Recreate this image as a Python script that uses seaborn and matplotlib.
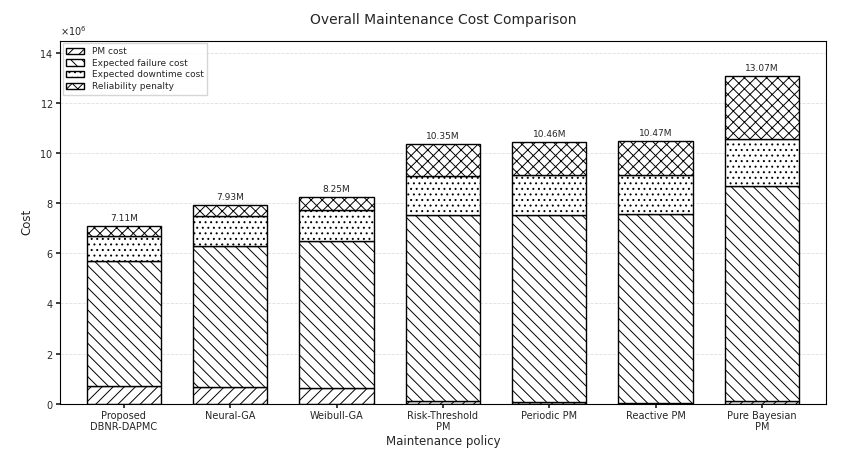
import matplotlib
matplotlib.use("Agg")
import matplotlib.pyplot as plt
import matplotlib.ticker as mticker
import seaborn as sns
import numpy as np

policies = ["Proposed\nDBNR-DAPMC", "Neural-GA", "Weibull-GA", "Risk-Threshold\nPM", "Periodic PM", "Reactive PM", "Pure Bayesian\nPM"]
pm_cost = [0.72, 0.68, 0.62, 0.10, 0.08, 0.02, 0.10]
failure_cost = [4.98, 5.62, 5.88, 7.45, 7.47, 7.55, 8.60]
downtime_cost = [1.00, 1.20, 1.22, 1.55, 1.60, 1.58, 1.85]
totals = [7.11, 7.93, 8.25, 10.35, 10.46, 10.47, 13.07]
penalty = [t - a - b - c for t, a, b, c in zip(totals, pm_cost, failure_cost, downtime_cost)]

sns.set_theme(style="white")
plt.rcParams['font.family'] = ['DejaVu Sans']
plt.rcParams['hatch.linewidth'] = 0.7
fig, ax = plt.subplots(figsize=(8.46, 4.51), dpi=100)
x = np.arange(len(policies))
w = 0.7
bottom = np.zeros(len(policies))
series = [("PM cost", pm_cost, "///"), ("Expected failure cost", failure_cost, "\\\\\\"),
          ("Expected downtime cost", downtime_cost, "..."), ("Reliability penalty", penalty, "xxx")]
for name, vals, h in series:
    v = np.array(vals) * 1e6
    ax.bar(x, v, w, bottom=bottom, color="white", edgecolor="black", hatch=h, linewidth=1.0, label=name)
    bottom += v
for xi, t in zip(x, totals):
    ax.text(xi, t * 1e6 + 0.12e6, f"{t:.2f}M", ha="center", va="bottom", fontsize=6.5)
ax.set_ylim(0, 14.5e6)
ax.set_xlim(-0.6, 6.6)
ax.set_xticks(x)
ax.set_xticklabels(policies, fontsize=7)
fmt = mticker.ScalarFormatter(useMathText=True)
fmt.set_powerlimits((6, 6))
ax.yaxis.set_major_formatter(fmt)
ax.set_yticks(np.arange(0, 15, 2) * 1e6)
ax.tick_params(axis="y", labelsize=7)
ax.yaxis.get_offset_text().set_fontsize(7)
ax.set_xlabel("Maintenance policy", fontsize=8.5, labelpad=2)
ax.set_ylabel("Cost", fontsize=8.5)
ax.set_title("Overall Maintenance Cost Comparison", fontsize=10, pad=12)
ax.grid(axis="y", linestyle="--", alpha=0.25, color="gray", linewidth=0.6)
ax.set_axisbelow(True)
for s in ax.spines.values():
    s.set_color("black"); s.set_linewidth(0.8)
ax.tick_params(bottom=True, left=True, length=3, pad=2)
ax.legend(loc="upper left", fontsize=6.5, frameon=True, fancybox=False, edgecolor="#cccccc",
          borderaxespad=0.3, handlelength=2.0, labelspacing=0.3)
fig.subplots_adjust(left=0.071, right=0.976, top=0.91, bottom=0.105)
fig.savefig("out.png", dpi=100)
